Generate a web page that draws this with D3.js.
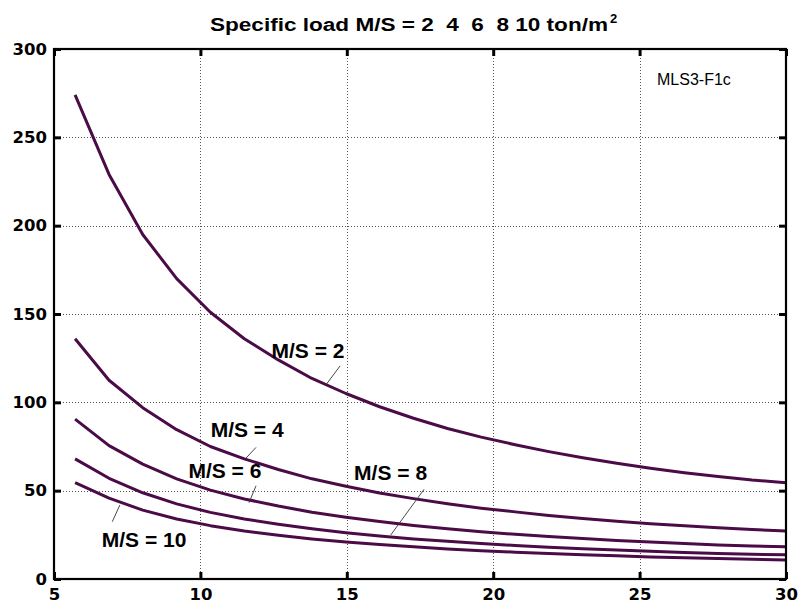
<!DOCTYPE html>
<html><head><meta charset="utf-8">
<script src="https://cdn.jsdelivr.net/npm/d3@7"></script>
<style>body{margin:0;background:#fff}</style>
</head><body><svg id="c" width="799" height="606"></svg>
<script>
const xValues = [5.72, 6.88, 8.03, 9.19, 10.34, 11.50, 12.66, 13.81, 14.97, 16.12, 17.28, 18.44, 19.59, 20.75, 21.90, 23.06, 24.22, 25.37, 26.53, 27.68, 28.84, 30.00];
const seriesNames = ["M/S = 2", "M/S = 4", "M/S = 6", "M/S = 8", "M/S = 10"];
const ms2 = [274, 229, 195, 170, 151, 136, 124, 113.5, 105, 97.5, 91, 85.2, 80.3, 76, 72.1, 68.6, 65.5, 62.7, 60.2, 58, 56, 54.5];
const ms4 = [136, 112.5, 97, 84.5, 75, 68, 62, 56.7, 52.5, 48.7, 45.5, 42.6, 40.1, 38, 36, 34.3, 32.7, 31.3, 30.1, 29, 28, 27.2];
const ms6 = [90.5, 75.5, 65, 56.7, 50.3, 45.3, 41.3, 37.8, 35, 32.5, 30.3, 28.4, 26.8, 25.3, 24, 22.9, 21.8, 20.9, 20.1, 19.3, 18.7, 18.2];
const ms8 = [68, 57, 48.8, 42.5, 37.7, 34, 31, 28.4, 26.2, 24.4, 22.7, 21.3, 20.1, 19, 18, 17.1, 16.4, 15.7, 15, 14.5, 14, 13.7];
const ms10 = [54.5, 45.8, 39, 34, 30.2, 27.2, 24.8, 22.7, 21, 19.5, 18.2, 17, 16, 15.2, 14.4, 13.7, 13.1, 12.5, 12, 11.6, 11.2, 10.8];
const xTicks = [5, 10, 15, 20, 25, 30];
const yTicks = [0, 50, 100, 150, 200, 250, 300];
// label anchors and leader lines, in data units
const labelX = [12.43, 10.35, 9.59, 15.25, 6.63];
const labelY = [124.9, 80.2, 57.0, 56.0, 18.3];
const leaderFrom = [[14.77, 120.6], [11.9, 74.5], [11.9, 52.8], [17.64, 50.8], [7.25, 41.9]];
const leaderTo = [[14.31, 110.4], [11.55, 68.3], [11.66, 43.2], [16.5, 24.9], [6.99, 32.4]];

const series = [ms2, ms4, ms6, ms8, ms10];
const svg = d3.select("#c");
const mL = 54, mR = 786, mT = 49, mB = 579;
const x = d3.scaleLinear().domain([5, 30]).range([mL, mR]);
const y = d3.scaleLinear().domain([0, 300]).range([mB, mT]);

svg.append("rect").attr("width", 799).attr("height", 606).attr("fill", "#fff");

// grid
const grid = svg.append("g").attr("stroke", "#555").attr("stroke-width", 1).attr("stroke-dasharray", "1,2");
grid.selectAll(".gx").data(xTicks.slice(1, -1)).join("line").attr("class", "gx")
  .attr("x1", d => Math.round(x(d)) + 0.5).attr("x2", d => Math.round(x(d)) + 0.5)
  .attr("y1", mT).attr("y2", mB);
grid.selectAll(".gy").data(yTicks.slice(1, -1)).join("line").attr("class", "gy")
  .attr("y1", d => Math.round(y(d)) + 0.5).attr("y2", d => Math.round(y(d)) + 0.5)
  .attr("x1", mL).attr("x2", mR);

// curves
const line = d3.line().x((d, i) => x(xValues[i])).y(d => y(d));
svg.append("g").selectAll("path").data(series).join("path")
  .attr("d", d => line(d)).attr("fill", "none")
  .attr("stroke", "#4b0b47").attr("stroke-width", 3).attr("stroke-linejoin", "round");

// axes
function styleAxis(g) {
  g.select(".domain").remove();
  g.selectAll(".tick line").attr("stroke", "#000").attr("stroke-width", 3);
  g.selectAll(".tick text").attr("fill", "#000")
    .style("font-family", "DejaVu Sans").style("font-weight", "bold").style("font-size", "16.5px");
}
svg.append("g").attr("transform", `translate(${mL},0)`)
  .call(d3.axisLeft(y).tickValues(yTicks).tickSize(-7).tickPadding(7))
  .call(styleAxis);
svg.append("g").attr("transform", `translate(0,${mB})`)
  .call(d3.axisBottom(x).tickValues(xTicks).tickSize(-7).tickPadding(9))
  .call(styleAxis);
svg.append("g").attr("transform", `translate(${mR},0)`)
  .call(d3.axisRight(y).tickValues(yTicks).tickSize(-7).tickFormat(""))
  .call(styleAxis);
svg.append("g").attr("transform", `translate(0,${mT})`)
  .call(d3.axisTop(x).tickValues(xTicks).tickSize(-7).tickFormat(""))
  .call(styleAxis);

svg.append("rect").attr("x", mL).attr("y", mT).attr("width", mR - mL).attr("height", mB - mT)
  .attr("fill", "none").attr("stroke", "#000").attr("stroke-width", 2.2);

// leaders and labels
svg.append("g").selectAll("line").data(seriesNames).join("line")
  .attr("x1", (d, i) => x(leaderFrom[i][0])).attr("y1", (d, i) => y(leaderFrom[i][1]))
  .attr("x2", (d, i) => x(leaderTo[i][0])).attr("y2", (d, i) => y(leaderTo[i][1]))
  .attr("stroke", "#333").attr("stroke-width", 0.9);
svg.append("g").selectAll("text").data(seriesNames).join("text")
  .attr("x", (d, i) => x(labelX[i])).attr("y", (d, i) => y(labelY[i]))
  .style("font-family", "Liberation Sans, Arial").style("font-weight", "bold").style("font-size", "21px")
  .style("white-space", "pre")
  .text(d => d);

// title
const title = svg.append("text").attr("x", 210).attr("y", 31)
  .style("font-family", "Liberation Sans, Arial").style("font-weight", "bold").style("font-size", "18px")
  .style("white-space", "pre");
title.append("tspan").attr("textLength", 398).attr("lengthAdjust", "spacingAndGlyphs")
  .text("Specific load M/S = 2  4  6  8 10 ton/m");
title.append("tspan").attr("x", 610).attr("y", 23).style("font-size", "13px").text("2");

svg.append("text").attr("x", 657).attr("y", 85)
  .style("font-family", "Liberation Sans, Arial").style("font-size", "16px").text("MLS3-F1c");
</script>
</body></html>
